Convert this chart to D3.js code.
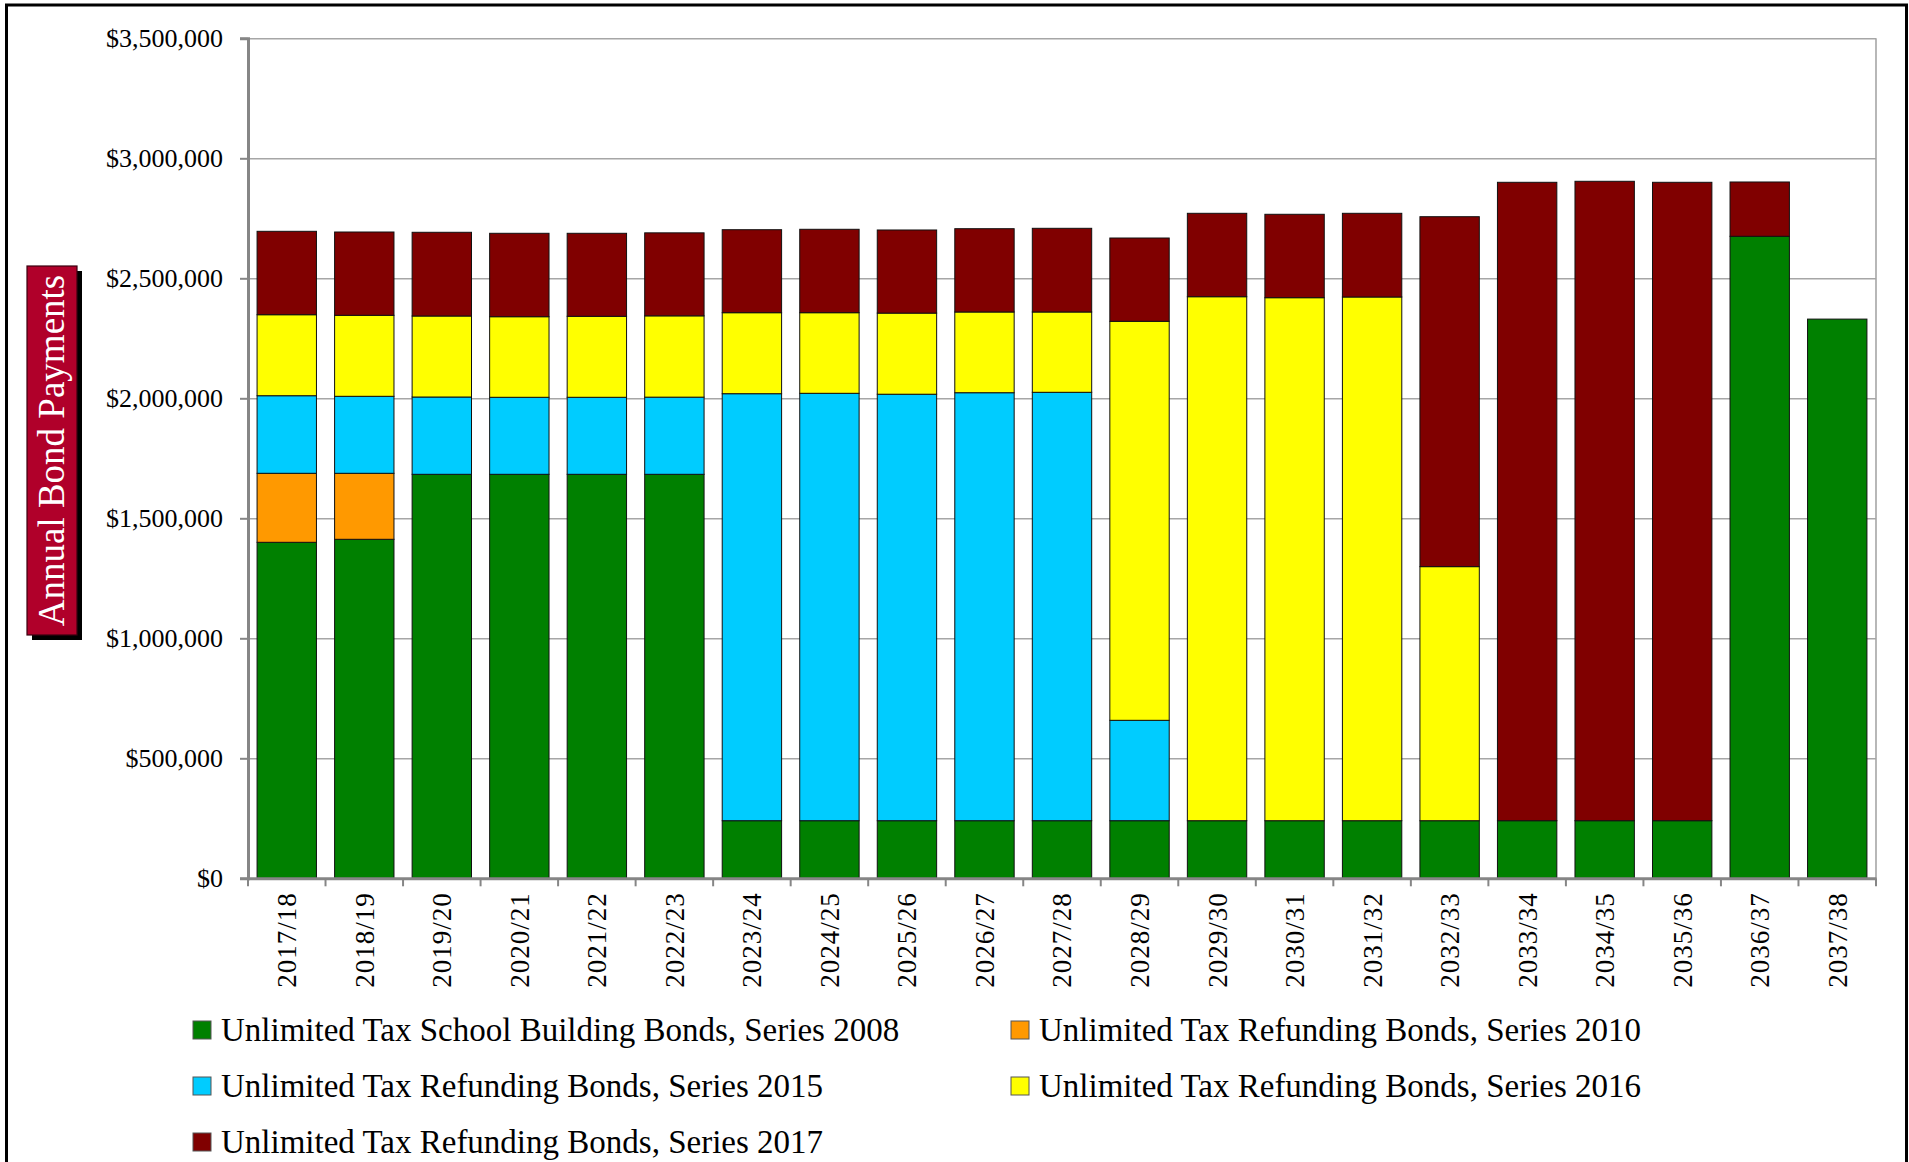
<!DOCTYPE html>
<html>
<head>
<meta charset="utf-8">
<script src="https://cdn.jsdelivr.net/npm/d3@7"></script>
<style>
  html, body { margin: 0; padding: 0; background: #ffffff; }
  svg { display: block; }
</style>
</head>
<body>
<svg id="chart" width="1909" height="1162"></svg>
<script>
// ---------------- DATA ----------------
const categories = ["2017/18","2018/19","2019/20","2020/21","2021/22","2022/23","2023/24","2024/25","2025/26","2026/27","2027/28","2028/29","2029/30","2030/31","2031/32","2032/33","2033/34","2034/35","2035/36","2036/37","2037/38"];

const seriesNames = [
  "Unlimited Tax School Building Bonds, Series 2008",
  "Unlimited Tax Refunding Bonds, Series 2010",
  "Unlimited Tax Refunding Bonds, Series 2015",
  "Unlimited Tax Refunding Bonds, Series 2016",
  "Unlimited Tax Refunding Bonds, Series 2017"
];

const series2008 = [1400000,1412500,1683300,1683300,1683300,1683300,240000,240000,240000,240000,240000,240000,240000,240000,240000,240000,240000,240000,240000,2675000,2330000];
const series2010 = [287500,275000,0,0,0,0,0,0,0,0,0,0,0,0,0,0,0,0,0,0,0];
const series2015 = [323300,320800,322100,320900,320900,321500,1779200,1780800,1777000,1783300,1785000,418300,0,0,0,0,0,0,0,0,0];
const series2016 = [337500,337500,337500,335800,337500,338800,337500,335900,338000,336300,334600,1662500,2183300,2179200,2182100,1058600,0,0,0,0,0];
const series2017 = [347500,347100,348800,347500,345800,345800,345800,347500,346300,347100,348700,347100,347500,347500,348700,1458100,2660000,2664200,2660000,226300,0];

const yTicks = [0,500000,1000000,1500000,2000000,2500000,3000000,3500000];
const yTitle = "Annual Bond Payments";

// ---------------- STYLE ----------------
const colors = ["#008000","#FF9900","#00CCFF","#FFFF00","#800000"];
const FONT = "'Liberation Serif', 'Times New Roman', serif";

const svg = d3.select("#chart");
const W = 1909, H = 1162;
const margin = {left: 248, top: 38.3, right: 1876, bottom: 878.3};

// outer frame
svg.append("rect")
  .attr("x", 6.5).attr("y", 5).attr("width", 1900).attr("height", 1200)
  .attr("fill", "none").attr("stroke", "#000").attr("stroke-width", 3);

const x = d3.scaleBand()
  .domain(categories)
  .range([margin.left, margin.right])
  .paddingInner(0.234)
  .paddingOuter(0.117);

const y = d3.scaleLinear()
  .domain([0, 3500000])
  .range([margin.bottom, margin.top]);

// gridlines
const grid = svg.append("g")
  .attr("transform", `translate(${margin.left},0)`)
  .call(d3.axisLeft(y).tickValues(yTicks).tickSize(-(margin.right - margin.left)).tickFormat(""));
grid.select(".domain").remove();
grid.selectAll("line").attr("stroke", "#a6a6a6").attr("stroke-width", 1.6);

// right border of plot
svg.append("line")
  .attr("x1", margin.right).attr("x2", margin.right)
  .attr("y1", y(3500000)).attr("y2", y(0))
  .attr("stroke", "#a6a6a6").attr("stroke-width", 1.6);

// stacked bars
const table = categories.map((c, i) => ({
  cat: c, s0: series2008[i], s1: series2010[i], s2: series2015[i], s3: series2016[i], s4: series2017[i]
}));
const stack = d3.stack().keys(["s0","s1","s2","s3","s4"]);
const stacked = stack(table);

svg.append("g").selectAll("g")
  .data(stacked)
  .join("g")
  .attr("fill", (d, i) => colors[i])
  .selectAll("rect")
  .data(d => d.filter(v => v[1] - v[0] > 0))
  .join("rect")
  .attr("x", d => x(d.data.cat))
  .attr("width", x.bandwidth())
  .attr("y", d => y(d[1]))
  .attr("height", d => y(d[0]) - y(d[1]))
  .attr("stroke", "#111")
  .attr("stroke-width", 1);

// y axis
const yAxis = svg.append("g")
  .attr("transform", `translate(${margin.left},0)`)
  .call(d3.axisLeft(y).tickValues(yTicks).tickSize(8).tickPadding(17)
        .tickFormat(d => "$" + d3.format(",")(d)));
yAxis.select(".domain").attr("stroke", "#868686").attr("stroke-width", 3);
yAxis.selectAll(".tick line").attr("stroke", "#868686").attr("stroke-width", 2);
yAxis.selectAll("text")
  .attr("font-family", FONT).attr("font-size", 26).attr("fill", "#000")
  .attr("dy", "0.33em");

// x axis
const xAxis = svg.append("g")
  .attr("transform", `translate(0,${margin.bottom})`)
  .call(d3.axisBottom(x).tickSize(0).tickPadding(0));
xAxis.select(".domain").attr("stroke", "#868686").attr("stroke-width", 3);
xAxis.selectAll(".tick text")
  .attr("font-family", FONT).attr("font-size", 27).attr("fill", "#000")
  .attr("letter-spacing", "1px")
  .attr("text-anchor", "end")
  .attr("transform", "translate(0,14) rotate(-90)")
  .attr("x", 0).attr("y", 0).attr("dy", "0.35em");

// boundary ticks
const gap = (x.step() - x.bandwidth()) / 2;
const boundaries = categories.map(c => x(c) - gap).concat([x(categories[categories.length - 1]) + x.bandwidth() + gap]);
xAxis.append("g").selectAll("line")
  .data(boundaries)
  .join("line")
  .attr("x1", d => d).attr("x2", d => d)
  .attr("y1", 0).attr("y2", 8)
  .attr("stroke", "#868686").attr("stroke-width", 2);

// y title box
const tb = svg.append("g");
tb.append("rect")
  .attr("x", 32).attr("y", 271).attr("width", 50).attr("height", 369)
  .attr("fill", "#000");
tb.append("rect")
  .attr("x", 27).attr("y", 266).attr("width", 50).attr("height", 369)
  .attr("fill", "#B0002A").attr("stroke", "#3a0010").attr("stroke-width", 1.2);
tb.append("text")
  .attr("transform", `translate(64,450.5) rotate(-90)`)
  .attr("text-anchor", "middle")
  .attr("font-family", FONT).attr("font-size", 37).attr("fill", "#fff")
  .text(yTitle);

// legend
const legendPos = [
  {mx: 193, row: 0}, {mx: 1011, row: 0},
  {mx: 193, row: 1}, {mx: 1011, row: 1},
  {mx: 193, row: 2}
];
const lg = svg.append("g").selectAll("g")
  .data(seriesNames)
  .join("g")
  .attr("transform", (d, i) => `translate(${legendPos[i].mx},${1030 + legendPos[i].row * 56})`);
lg.append("rect")
  .attr("x", 0).attr("y", -9).attr("width", 18).attr("height", 18)
  .attr("fill", (d, i) => colors[i]).attr("stroke", "#555").attr("stroke-width", 1);
lg.append("text")
  .attr("x", 28).attr("y", 10.5)
  .attr("font-family", FONT).attr("font-size", 33).attr("fill", "#000")
  .text(d => d);
</script>
</body>
</html>
